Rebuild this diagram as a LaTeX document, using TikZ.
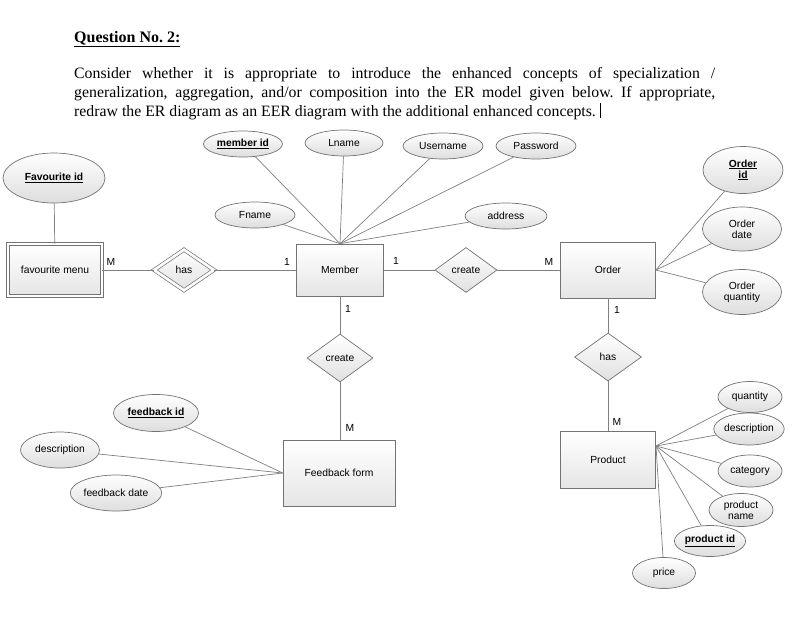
\documentclass[tikz,border=0pt]{standalone}
\usepackage{fontspec}
\setmainfont{Liberation Serif}
\newfontfamily\erfamily{Liberation Sans}
\newcommand\erfont{\erfamily\fontsize{10.3}{12}\selectfont}
\usetikzlibrary{shapes.geometric}
\tikzset{
  conn/.style={draw=black!50, line width=0.7pt},
  attr/.style 2 args={ellipse, draw=black!55, line width=0.7pt, top color=white,
    bottom color=black!13, minimum width=#1, minimum height=#2, inner sep=0pt,
    font=\erfont, align=center},
  ent/.style 2 args={rectangle, draw=black!55, line width=0.7pt, top color=white,
    bottom color=black!10, minimum width=#1, minimum height=#2, inner sep=0pt,
    font=\erfont},
  rel/.style 2 args={diamond, draw=black!55, line width=0.7pt, top color=white,
    bottom color=black!12, minimum width=#1, minimum height=#2, inner sep=0pt,
    aspect=1.4, font=\erfont},
  dbl/.style={double=white, double distance=2.6pt},
  card/.style={font=\erfont, inner sep=0pt}
}
\newcommand\keytext[1]{\underline{#1}}
\frenchspacing
\begin{document}
\begin{tikzpicture}[x=1pt,y=-1pt]
\useasboundingbox (0,0) rectangle (792,619);
\fill[white] (0,0) rectangle (792,619);

% header
\node[anchor=base west, inner sep=0pt, font=\fontsize{16}{19}\selectfont\bfseries] (title) at (74,42) {\underline{Question No. 2:}};
\node[anchor=north west, inner sep=0pt, text width=641pt, align=justify,
  font=\fontsize{15.8}{19}\selectfont] (body) at (74,67)
  {Consider whether it is appropriate to introduce the enhanced concepts of specialization /\linebreak
   generalization, aggregation, and/or composition into the ER model given below. If appropriate,\linebreak
   redraw the ER diagram as an EER diagram with the additional enhanced concepts.};
\coordinate (cur1) at (600,103);
\coordinate (cur2) at (600,118);
\draw[line width=0.8pt] (cur1) -- (cur2);

% entities
\node[ent={94pt}{52pt}, dbl] (fav) at (55,270) {favourite menu};
\node[ent={87pt}{52pt}] (mem) at (340,270) {Member};
\node[ent={95pt}{56pt}] (ord) at (608,270) {Order};
\node[ent={112pt}{66pt}] (fb) at (339,473) {Feedback form};
\node[ent={95pt}{57pt}] (prod) at (608,460) {Product};

% relationships
\node[rel={60pt}{41pt}, dbl] (has1) at (184,270) {has};
\node[rel={62pt}{45pt}] (cr1) at (466,270) {create};
\node[rel={66pt}{48pt}] (cr2) at (340,358) {create};
\node[rel={67pt}{48pt}] (has2) at (608,357) {has};

% attributes
\node[attr={102pt}{50pt}] (favid) at (54,178) {\textbf{\keytext{Favourite id}}};
\node[attr={79pt}{26pt}] (memid) at (243,144) {\textbf{\keytext{member id}}};
\node[attr={78pt}{26pt}] (lname) at (344,143) {Lname};
\node[attr={80pt}{26pt}] (uname) at (443,146) {Username};
\node[attr={80pt}{26pt}] (pwd) at (536,146) {Password};
\node[attr={80pt}{26pt}] (fname) at (255,215) {Fname};
\node[attr={82pt}{26pt}] (addr) at (506,216) {address};

\node[attr={80pt}{47pt}] (ordid) at (743,170) {\textbf{\keytext{Order}}\\[-1pt]\textbf{\keytext{id}}};
\node[attr={79pt}{44pt}] (orddate) at (742,229) {Order\\[-1pt]date};
\node[attr={79pt}{45pt}] (ordqty) at (742,292) {Order\\[-1pt]quantity};

\node[attr={85pt}{37pt}] (fbid) at (156,413) {\textbf{\keytext{feedback id}}};
\node[attr={79pt}{36pt}] (desc) at (60,450) {description};
\node[attr={79pt}{36pt}] (fbdate) at (116,493) {feedback date};

\node[attr={64pt}{31pt}] (qty) at (750,397) {quantity};
\node[attr={66pt}{32pt}] (pdesc) at (749,429) {description};
\node[attr={64pt}{32pt}] (cat) at (750,471) {category};
\node[attr={64pt}{33pt}] (pname) at (741,510) {product\\[-1pt]name};
\node[attr={64pt}{31pt}] (pid) at (710,541) {\textbf{\keytext{product id}}};
\node[attr={63pt}{31pt}] (price) at (664,573) {price};

% connectors: relationships
\draw[conn] (fav) -- (has1);
\draw[conn] (has1) -- (mem);
\draw[conn] (mem) -- (cr1);
\draw[conn] (cr1) -- (ord);
\draw[conn] (mem.south) -- (cr2.north);
\draw[conn] (cr2.south) -- (cr2.south |- fb.north);
\draw[conn] (ord.south) -- (has2.north);
\draw[conn] (has2.south) -- (prod.north);

% connectors: attributes
\draw[conn] (favid) -- (fav);
\foreach \a in {memid,lname,uname,pwd,fname,addr} \draw[conn] (mem.north) -- (\a);
\foreach \a in {ordid,orddate,ordqty} \draw[conn] (ord.east) -- (\a);
\foreach \a in {fbid,desc,fbdate} \draw[conn] (fb.west) -- (\a);
\coordinate (pconv) at (656,446);
\foreach \a in {qty,pdesc,cat,pname,pid,price} \draw[conn] (pconv) -- (\a);

% cardinalities
\node[card] (c1) at (111,262) {M};
\node[card] (c2) at (287,262) {1};
\node[card] (c3) at (396,261) {1};
\node[card] (c4) at (549,262) {M};
\node[card] (c5) at (348,309) {1};
\node[card] (c6) at (350,428) {M};
\node[card] (c7) at (617,310) {1};
\node[card] (c8) at (617,422) {M};
\end{tikzpicture}
\end{document}
